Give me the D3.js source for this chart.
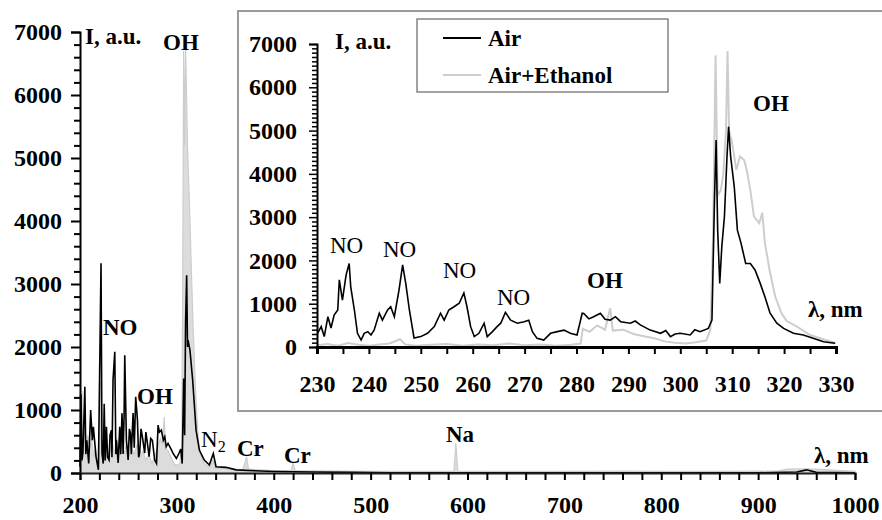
<!DOCTYPE html>
<html lang="en">
<head>
  <meta charset="UTF-8">
  <title>Emission spectra: Air vs Air+Ethanol</title>
  <script src="https://d3js.org/d3.v7.min.js"></script>
  <style>
    body { margin: 0; background: #fff; }
    svg { display: block; }
    svg text { font-family: "Liberation Serif", "Times New Roman", serif; }
    .tick text { font-size: 24px; font-weight: bold; fill: #000; }
    .lbl { font-size: 23px; font-weight: bold; fill: #000; }
    .lbl.thin { font-weight: normal; }
  </style>
</head>
<body>
  <div id="chart"></div>
  <script>
    // full spectrum, 200-1000 nm  [wavelength, intensity]
    const airFull = [
      [200,100],[201,1250],[202,200],[203,320],[205,1370],[206,300],[207,520],[209,150],[211,1000],
      [212.7,520],[213.8,735],[216.5,260],[219,50],[221.7,3330],[222.7,317],[224,150],[225,1100],
      [226,200],[227.3,735],[228.5,250],[230,206],[231,600],[232.4,680],[233,250],[234.1,1475],
      [235.9,1925],[237,300],[237.6,520],[239.4,160],[241,735],[242,300],[243.4,950],[244.5,300],
      [245.5,900],[246.2,1870],[247.9,520],[249.7,206],[251,700],[252,630],[253,300],[254.8,950],
      [256,400],[257.5,1210],[259.3,840],[260.5,250],[261.6,317],[263,700],[264.4,575],[266.8,317],
      [268,650],[269.2,520],[271.3,260],[273,550],[274.7,520],[277.1,206],[279,150],[280.6,760],
      [282,650],[284,680],[286,520],[287.5,575],[289,420],[290.9,470],[294,380],[296.1,310],
      [299.5,230],[302.3,317],[304,380],[305.5,150],[307,1500],[308,600],[309,2400],[310.1,3140],
      [311,2000],[311.5,2110],[313.5,1950],[316.3,1475],[319.8,680],[323.2,365],[328.3,206],
      [333.5,127],[337.6,310],[340.4,100],[350.7,90],[361,50],[380,35],[400,25],[440,15],
      [480,10],[520,5],[600,4],[700,4],[800,4],[900,4],[940,15],[950,50],[960,10],[1000,5]
    ];
    const ethFull = [
      [200,1250],[201,300],[202,1300],[203,400],[205,700],[206,250],[208,600],[210,350],[212,550],
      [214,250],[216,400],[218,150],[220,200],[221.5,1450],[222.5,250],[224,400],[226,200],
      [228,450],[230,250],[233,500],[236,300],[238,550],[240,250],[243,450],[246,300],[248,500],
      [250,250],[253,400],[256,300],[259,450],[262,250],[265,350],[268,200],[271,300],[274,150],
      [277,250],[280,400],[283,550],[285,450],[287,890],[288,400],[291,350],[294,250],[297,150],
      [300,120],[303,150],[305,400],[306,3000],[307,6700],[308,5200],[309,6750],[310,6000],
      [311,5170],[312,4700],[313,4280],[315,3200],[317,2220],[319,1400],[320.5,950],[322,550],
      [324,320],[327,180],[330,120],[334,90],[337,200],[340,80],[350,70],[360,60],[368,50],
      [372,260],[374,60],[385,50],[400,40],[418,40],[420,160],[422,40],[440,35],[470,30],
      [500,25],[550,25],[586,25],[588,476],[590,30],[620,25],[700,25],[760,30],[800,25],
      [860,25],[920,30],[930,60],[950,65],[970,55],[985,40],[1000,30]
    ];

    // zoomed spectrum, 230-330 nm
    const airZoom = [
      [230.1,316],[230.8,470],[231.4,240],[232.1,700],[232.7,440],[233.3,740],[234,855],[234.3,1550],
      [234.9,1085],[235.6,1660],[236.2,1930],[236.5,1390],[237.2,855],[237.8,316],[238.5,160],
      [239.1,316],[239.8,355],[240.4,277],[241,390],[242,780],[242.6,620],[243.6,855],[244.2,930],
      [244.9,700],[245.8,1315],[246.5,1895],[247.1,1470],[247.8,855],[248.7,208],[250,240],
      [251.3,316],[252.6,470],[253.8,780],[254.5,620],[255.4,855],[256.4,930],[257.4,1010],
      [258.3,1250],[258.9,930],[259.6,470],[260.3,240],[261.2,316],[262.2,550],[262.8,240],
      [263.8,355],[264.7,470],[265.4,550],[266.3,800],[267.3,620],[268.6,550],[269.9,585],
      [270.8,620],[271.5,355],[272.4,200],[273.7,160],[275,316],[276.3,355],[277.6,390],
      [278.8,316],[280.1,277],[281.1,780],[281.4,775],[282.4,650],[283.3,700],[284.6,780],
      [285.5,640],[286.5,620],[287.5,700],[288.5,585],[290.4,550],[291.3,600],[292.3,510],
      [294.2,390],[296.2,316],[297.2,380],[298.1,240],[299,300],[300,316],[301.9,277],[302.8,400],
      [303.8,355],[305.4,430],[306.1,620],[306.6,3470],[306.9,4780],[307.2,2700],[307.6,1470],
      [308,2320],[308.5,3010],[309,4400],[309.3,5090],[309.7,4400],[310.4,3700],[311,2700],
      [311.7,2400],[312,2240],[312.6,1930],[313.5,1930],[314.4,1780],[315.4,1470],[316.3,1160],
      [317.3,780],[318.6,550],[319.9,430],[321.8,316],[323.7,277],[325.6,200],[327.6,120],[329.8,85]
    ];
    const ethZoom = [
      [230,40],[232,70],[234,30],[236,90],[238,50],[240,30],[242,60],[244,80],[246,180],
      [247,60],[249,30],[252,50],[255,70],[258,30],[261,60],[264,40],[267,80],[270,40],
      [273,60],[276,30],[279,50],[280.8,80],[281.2,420],[282.5,350],[284,500],[285.5,400],
      [286.5,900],[287,380],[289,400],[291,300],[293,250],[295,200],[297,130],[299,100],[301,80],
      [303,110],[305,150],[305.8,400],[306.3,2500],[306.8,6740],[307.2,3500],[307.8,3620],
      [308.3,4010],[308.8,5000],[309.1,6840],[309.4,5010],[310,4700],[310.8,4090],[311.5,4400],
      [312.3,4320],[312.8,4090],[313.5,3620],[314.2,3010],[315.2,2860],[315.8,3100],[316.3,2400],
      [317.2,1780],[318.3,1160],[319.5,780],[320.5,600],[322.5,470],[325,277],[328,160],[330,85]
    ];

    const seriesNames = ['Air', 'Air+Ethanol'];
    const colors = ['#000', '#cdcdcd'];

    const width = 882, height = 520;
    const svg = d3.select('#chart').append('svg')
      .attr('width', width).attr('height', height);

    // ---- main chart ----
    const x = d3.scaleLinear().domain([200, 1000]).range([80, 855]);
    const y = d3.scaleLinear().domain([0, 7000]).range([473, 32]);

    svg.append('path')
      .datum(ethFull)
      .attr('fill', '#dcdcdc')
      .attr('stroke', colors[1])
      .attr('stroke-width', 1.2)
      .attr('d', d3.area().x(d => x(d[0])).y0(y(0)).y1(d => y(d[1])));

    svg.append('path')
      .datum(airFull)
      .attr('fill', 'none')
      .attr('stroke', colors[0])
      .attr('stroke-width', 1.6)
      .attr('d', d3.line().x(d => x(d[0])).y(d => y(d[1])));

    const yAx = svg.append('g')
      .attr('transform', `translate(${x(200)},0)`)
      .call(d3.axisLeft(y).tickValues(d3.range(0, 7001, 200))
        .tickSize(9).tickPadding(9)
        .tickFormat(d => d % 1000 === 0 ? d : ''));
    yAx.attr('font-family', null).attr('font-size', null);
    yAx.select('.domain').attr('stroke-width', 2);
    yAx.selectAll('.tick line').attr('stroke-width', 2)
      .attr('x2', d => d % 1000 === 0 ? -9 : -6);

    const xAx = svg.append('g')
      .attr('transform', `translate(0,${y(0)})`)
      .call(d3.axisBottom(x).tickValues(d3.range(200, 1001, 20))
        .tickSize(7).tickPadding(16)
        .tickFormat(d => d % 100 === 0 ? d : ''));
    xAx.attr('font-family', null).attr('font-size', null);
    xAx.select('.domain').attr('stroke-width', 2).attr('stroke', '#222');
    xAx.selectAll('.tick line').attr('stroke-width', 2);

    // ---- inset ----
    svg.append('rect')
      .attr('x', 238).attr('y', 11).attr('width', 660).attr('height', 400)
      .attr('fill', '#fff').attr('stroke', '#9a9a9a').attr('stroke-width', 2);

    const xi = d3.scaleLinear().domain([230, 330]).range([317, 836]);
    const yi = d3.scaleLinear().domain([0, 7000]).range([347, 44]);

    svg.append('path')
      .datum(ethZoom)
      .attr('fill', 'none')
      .attr('stroke', colors[1])
      .attr('stroke-width', 2)
      .attr('d', d3.line().x(d => xi(d[0])).y(d => yi(d[1])));

    svg.append('path')
      .datum(airZoom)
      .attr('fill', 'none')
      .attr('stroke', colors[0])
      .attr('stroke-width', 1.6)
      .attr('d', d3.line().x(d => xi(d[0])).y(d => yi(d[1])));

    const yiAx = svg.append('g')
      .attr('transform', `translate(${xi(230)},0)`)
      .call(d3.axisLeft(yi).tickValues(d3.range(0, 7001, 100))
        .tickSize(8).tickPadding(12)
        .tickFormat(d => d % 1000 === 0 ? d : ''));
    yiAx.attr('font-family', null).attr('font-size', null);
    yiAx.select('.domain').attr('stroke-width', 2);
    yiAx.selectAll('.tick line').attr('stroke-width', 1.5)
      .attr('x2', d => d % 1000 === 0 ? -8 : -5);

    const xiAx = svg.append('g')
      .attr('transform', `translate(0,${yi(0)})`)
      .call(d3.axisBottom(xi).tickValues(d3.range(230, 331, 5))
        .tickSize(7).tickPadding(21)
        .tickFormat(d => d % 10 === 0 ? d : ''));
    xiAx.attr('font-family', null).attr('font-size', null);
    xiAx.select('.domain').attr('stroke-width', 3);
    xiAx.selectAll('.tick line').attr('stroke-width', 2);

    // legend
    const leg = svg.append('g');
    leg.append('rect')
      .attr('x', 417).attr('y', 19).attr('width', 251).attr('height', 73)
      .attr('fill', '#fff').attr('stroke', '#666').attr('stroke-width', 1.2);
    seriesNames.forEach((name, i) => {
      const ly = 38 + i * 37;
      leg.append('line')
        .attr('x1', 443).attr('x2', 481).attr('y1', ly).attr('y2', ly)
        .attr('stroke', colors[i]).attr('stroke-width', 2);
      leg.append('text').attr('class', 'lbl')
        .attr('x', 488).attr('y', ly + 8).text(name);
    });

    // annotations
    const labels = [
      { t: 'I, a.u.', x: 85, y: 44 },
      { t: 'OH', x: 163, y: 50 },
      { t: 'NO', x: 103, y: 335 },
      { t: 'OH', x: 137, y: 404 },
      { t: 'Cr', x: 237, y: 456 },
      { t: 'Cr', x: 284, y: 463 },
      { t: 'Na', x: 446, y: 442 },
      { t: 'λ, nm', x: 814, y: 463 },
      { t: 'I, a.u.', x: 335, y: 49 },
      { t: 'NO', x: 330, y: 253, thin: true },
      { t: 'NO', x: 383, y: 257, thin: true },
      { t: 'NO', x: 443, y: 278, thin: true },
      { t: 'NO', x: 497, y: 305, thin: true },
      { t: 'OH', x: 587, y: 288 },
      { t: 'OH', x: 753, y: 111 },
      { t: 'λ, nm', x: 808, y: 317 }
    ];
    svg.selectAll('text.ann').data(labels).enter().append('text')
      .attr('class', d => 'lbl ann' + (d.thin ? ' thin' : ''))
      .attr('x', d => d.x).attr('y', d => d.y).text(d => d.t);

    const n2 = svg.append('text').attr('class', 'lbl thin').attr('x', 201).attr('y', 447);
    n2.append('tspan').text('N');
    n2.append('tspan').attr('dy', 5).style('font-size', '16px').text('2');
  </script>
</body>
</html>
